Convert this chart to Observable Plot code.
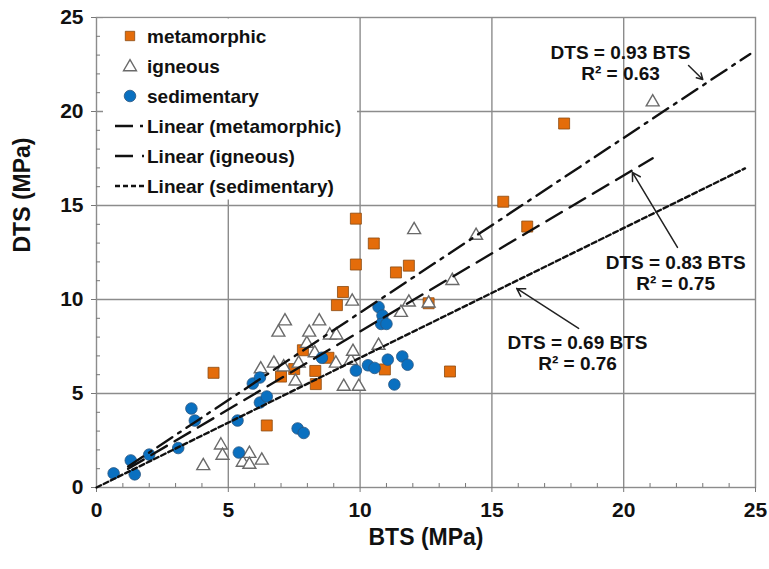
<!DOCTYPE html>
<html><head><meta charset="utf-8">
<script src="https://cdn.jsdelivr.net/npm/d3@7"></script>
<script src="https://cdn.jsdelivr.net/npm/@observablehq/plot@0.6"></script>
<style>
body{margin:0;background:#fff;}
#chart{width:769px;height:569px;}
</style></head><body><div id="chart"></div>
<script>
// ---- data (MPa) ----
const metaBTS = [4.44, 6.46, 7.0, 7.5, 7.83, 8.3, 8.32, 8.8, 9.12, 9.35, 9.84, 9.84, 10.52, 10.94, 11.36, 11.85, 12.6, 13.41, 15.43, 16.34, 17.74];
const metaDTS = [6.1, 3.3, 5.9, 6.3, 7.3, 6.2, 5.5, 6.9, 9.7, 10.4, 11.86, 14.3, 12.98, 6.28, 11.44, 11.8, 9.8, 6.17, 15.2, 13.88, 19.36];

const ignBTS = [4.05, 4.72, 4.78, 5.55, 5.8, 5.8, 6.27, 6.23, 6.73, 6.9, 7.15, 7.1, 7.55, 7.67, 7.98, 8.07, 8.28, 8.45, 8.85, 9.1, 9.08, 9.38, 9.65, 9.73, 9.95, 9.7, 10.7, 11.55, 11.85, 12.6, 12.05, 13.5, 14.4, 21.1];
const ignDTS = [1.15, 2.25, 1.7, 1.33, 1.8, 1.22, 1.44, 6.3, 6.6, 8.25, 8.85, 6.4, 5.65, 6.6, 7.65, 8.25, 7.15, 8.85, 8.1, 8.1, 6.6, 5.37, 6.75, 7.23, 5.37, 9.9, 7.55, 9.3, 9.85, 9.8, 13.7, 11.0, 13.4, 20.5];

const sedBTS = [0.65, 1.3, 1.45, 2.0, 3.1, 3.6, 3.73, 5.35, 5.4, 5.93, 6.2, 6.2, 6.46, 7.63, 7.86, 8.55, 9.84, 10.3, 10.55, 10.7, 10.85, 10.8, 11.0, 11.05, 11.6, 11.8, 11.3];
const sedDTS = [0.75, 1.44, 0.7, 1.75, 2.1, 4.2, 3.56, 3.56, 1.86, 5.53, 5.85, 4.52, 4.84, 3.14, 2.9, 6.9, 6.22, 6.5, 6.36, 9.6, 9.15, 8.7, 8.7, 6.8, 6.97, 6.53, 5.48];

// linear fits through origin: DTS = slope * BTS
const fitNames = ["metamorphic", "igneous", "sedimentary"];
const fitSlopes = [0.93, 0.83, 0.69];
const fitR2 = [0.63, 0.75, 0.76];
const fitStart = [1.2, 1.2, 0];
const fitEnd = [24.8, 21.1, 24.6];

// annotation anchors (data units)
const annoX = [19.88, 21.97, 18.25];
const annoY = [22.58, 11.41, 7.15];
const arrowFromX = [22.46, 22.04, 18.29];
const arrowFromY = [22.45, 12.77, 8.46];
const arrowToX = [23.0, 20.33, 15.94];
const arrowToY = [21.7, 16.76, 10.59];

const majorTicks = [0, 5, 10, 15, 20, 25];
const minorTicks = d3.range(1, 25).filter(d => d % 5 !== 0);

const legendLabels = ["metamorphic", "igneous", "sedimentary", "Linear (metamorphic)", "Linear (igneous)", "Linear (sedimentary)"];

// ---- styles ----
const FONT = "'Liberation Sans', Arial, Helvetica, sans-serif";
const ORANGE = "#E46C0A", ORANGE_EDGE = "#8a4a10";
const BLUE = "#0A70C0", BLUE_EDGE = "#2a5580";
const TRI_EDGE = "#6a6a6a";
const GRID = "#8c8c8c";
const dashes = ["18,7,3,7", "18,9", "5,3"];
const rSquare = 6.2, rTri = 4.8, rCircle = 5.8;

const meta = metaBTS.map((x, i) => ({x, y: metaDTS[i]}));
const ign = ignBTS.map((x, i) => ({x, y: ignDTS[i]}));
const sed = sedBTS.map((x, i) => ({x, y: sedDTS[i]}));
const fits = fitSlopes.flatMap((s, i) => [
  {name: fitNames[i], x: fitStart[i], y: s * fitStart[i]},
  {name: fitNames[i], x: fitEnd[i], y: s * fitEnd[i]}
]);
const annos = fitSlopes.map((s, i) => ({
  text: `DTS = ${s.toFixed(2)} BTS\nR² = ${fitR2[i].toFixed(2)}`,
  x: annoX[i], y: annoY[i],
  x1: arrowFromX[i], y1: arrowFromY[i], x2: arrowToX[i], y2: arrowToY[i]
}));

const plot = Plot.plot({
  width: 769, height: 569,
  marginLeft: 96, marginRight: 14, marginTop: 17, marginBottom: 82,
  x: {domain: [0, 25]},
  y: {domain: [0, 25]},
  style: {fontFamily: FONT, background: "#fff", color: "#111"},
  marks: [
    Plot.gridX(majorTicks.slice(1, -1), {stroke: GRID, strokeOpacity: 1, strokeWidth: 1.4}),
    Plot.gridY(majorTicks.slice(1, -1), {stroke: GRID, strokeOpacity: 1, strokeWidth: 1.4}),
    Plot.frame({stroke: GRID, strokeWidth: 1.4}),
    Plot.axisX({ticks: majorTicks, tickSize: 5, tickPadding: 10, fontSize: 21, fontWeight: "bold", label: null, stroke: "#777", fill: "#111"}),
    Plot.axisY({ticks: majorTicks, tickSize: 5, tickPadding: 8, fontSize: 21, fontWeight: "bold", label: null, stroke: "#777", fill: "#111"}),
    Plot.axisX({ticks: minorTicks, tickSize: -4, text: null, label: null, stroke: "#777"}),
    Plot.axisY({ticks: minorTicks, tickSize: -4, text: null, label: null, stroke: "#777"}),
    Plot.text(["BTS (MPa)"], {frameAnchor: "bottom", dy: 57, fontSize: 23, fontWeight: "bold", fill: "#111"}),
    Plot.text(["DTS (MPa)"], {frameAnchor: "left", dx: -74, rotate: -90, fontSize: 23, fontWeight: "bold", fill: "#111"}),
    Plot.dot(meta, {x: "x", y: "y", symbol: "square", r: rSquare, fill: ORANGE, stroke: ORANGE_EDGE, strokeWidth: 0.8}),
    Plot.dot(ign, {x: "x", y: "y", symbol: "triangle", r: rTri, fill: "#fff", stroke: TRI_EDGE, strokeWidth: 1.4}),
    Plot.dot(sed, {x: "x", y: "y", symbol: "circle", r: rCircle, fill: BLUE, stroke: BLUE_EDGE, strokeWidth: 0.8}),
    ...fitNames.map((n, i) => Plot.line(fits.filter(d => d.name === n), {x: "x", y: "y", stroke: "#111", strokeWidth: 2.4, strokeDasharray: dashes[i]})),
    Plot.text(annos, {x: "x", y: "y", text: "text", fontSize: 19, fontWeight: "bold", lineHeight: 1.1, fill: "#111"}),
    Plot.arrow(annos, {x1: "x1", y1: "y1", x2: "x2", y2: "y2", stroke: "#222", strokeWidth: 1.5, headLength: 9, bend: 0})
  ]
});
document.getElementById("chart").append(plot);

// ---- legend (inside plot, top-left) ----
const svg = d3.select(plot);
const lg = svg.append("g").attr("font-family", FONT).attr("font-weight", "bold").attr("font-size", 19)
  .attr("fill", "#111").attr("text-anchor", "start").style("text-anchor", "start");
lg.append("rect").attr("x", 103).attr("y", 18.5).attr("width", 254).attr("height", 181).attr("fill", "#fff");
const rowY = i => 36 + i * 30;
const symX = 130;
lg.append("path").attr("transform", `translate(${symX},${rowY(0)})`)
  .attr("d", d3.symbol(d3.symbolSquare, Math.PI * 5.3 * 5.3)()).attr("fill", ORANGE).attr("stroke", ORANGE_EDGE).attr("stroke-width", 0.8);
lg.append("path").attr("transform", `translate(${symX},${rowY(1) + 1})`)
  .attr("d", d3.symbol(d3.symbolTriangle, Math.PI * rTri * rTri)()).attr("fill", "#fff").attr("stroke", TRI_EDGE).attr("stroke-width", 1.4);
lg.append("path").attr("transform", `translate(${symX},${rowY(2)})`)
  .attr("d", d3.symbol(d3.symbolCircle, Math.PI * rCircle * rCircle)()).attr("fill", BLUE).attr("stroke", BLUE_EDGE).attr("stroke-width", 0.8);
[0, 1, 2].forEach(i => {
  lg.append("line").attr("x1", 115).attr("x2", 144).attr("y1", rowY(3 + i)).attr("y2", rowY(3 + i))
    .attr("stroke", "#111").attr("stroke-width", 2.4).attr("stroke-dasharray", dashes[i]);
});
legendLabels.forEach((t, i) => {
  lg.append("text").attr("x", 147).attr("y", rowY(i)).attr("dy", "0.35em")
    .attr("text-anchor", "start").style("text-anchor", "start").text(t);
});
</script>
</body></html>
